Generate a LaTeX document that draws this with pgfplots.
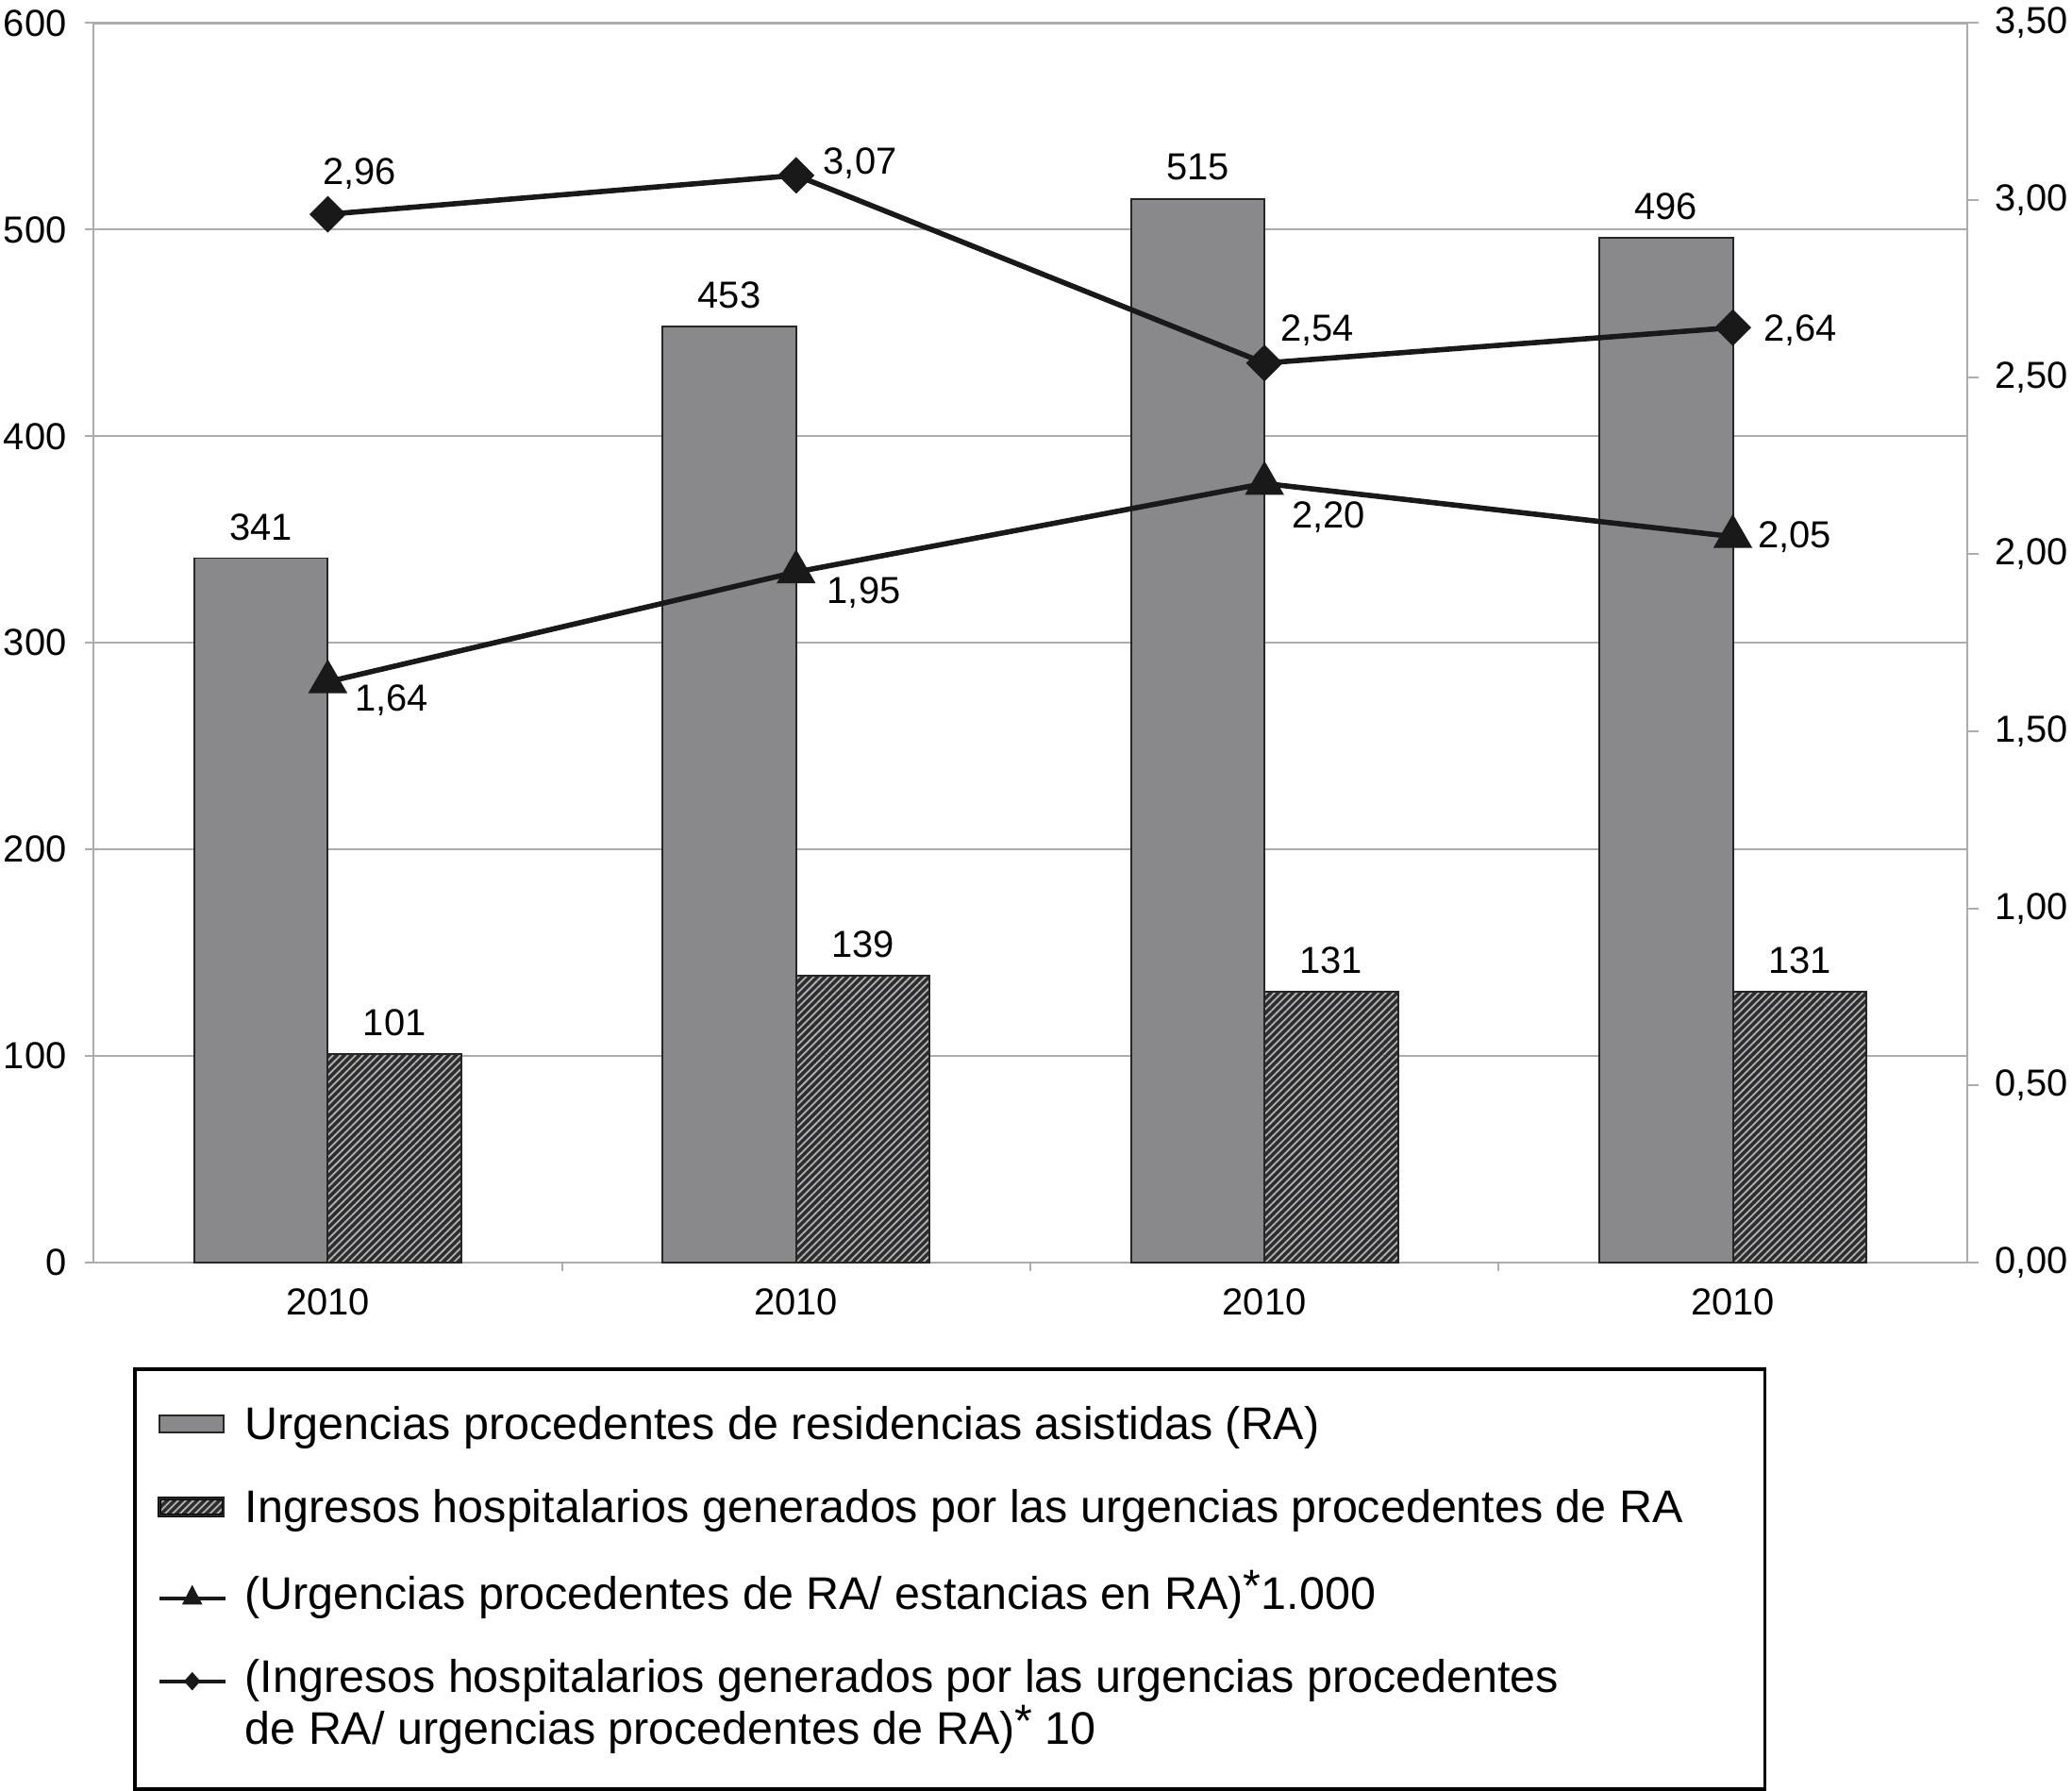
\documentclass[border=0pt]{standalone}
\usepackage{fontspec}
\setmainfont{Liberation Sans}
\usepackage{pgfplots}
\pgfplotsset{compat=1.18}
\usetikzlibrary{patterns.meta}
\pgfplotsset{/pgf/number format/assume math mode=true}
\definecolor{barA}{RGB}{137,137,140}
\definecolor{barB}{RGB}{45,45,48}
\definecolor{gridc}{RGB}{172,172,172}
\definecolor{linec}{RGB}{25,25,25}
\newcommand{\lblfont}{\fontsize{10}{12}\selectfont}
\begin{document}
\begin{tikzpicture}
\begin{axis}[
  scale only axis, width=498pt, height=329.5pt,
  xmin=-0.5, xmax=3.5, ymin=0, ymax=600,
  enlargelimits=false,
  xtick={0,1,2,3}, xticklabels={2010,2010,2010,2010},
  minor xtick={0.5,1.5,2.5},
  ytick={0,100,200,300,400,500,600},
  tick pos=left, tick align=outside,
  major tick length=2.3pt, minor tick length=2.2pt,
  major x tick style={draw=none},
  minor x tick style={draw=gridc, line width=0.5pt},
  ytick style={draw=gridc, line width=0.5pt},
  ymajorgrids, major grid style={draw=gridc, line width=0.5pt},
  axis line style={draw=gridc, line width=0.6pt},
  ticklabel style={font=\lblfont, inner xsep=1pt, inner ysep=2pt, text=black},
  yticklabel style={xshift=-3.7pt},
  xticklabel style={yshift=-2.4pt},
]
\addplot[ybar, bar width=0.285, bar shift=-0.1425, fill=barA, draw=black!85, line width=0.5pt,
  nodes near coords,
  every node near coord/.append style={anchor=center, xshift=-17.74pt, yshift=8.3pt, inner sep=0pt, font=\lblfont, text=black}]
  coordinates {(0,341) (1,453) (2,515) (3,496)};
\addplot[ybar, bar width=0.285, bar shift=0.1425, fill=barB, draw=black!85, line width=0.5pt,
  postaction={pattern={Lines[angle=45,distance=1.4pt,line width=0.45pt]}, pattern color=gray!60},
  nodes near coords,
  every node near coord/.append style={anchor=center, xshift=17.74pt, yshift=8.3pt, inner sep=0pt, font=\lblfont, text=black}]
  coordinates {(0,101) (1,139) (2,131) (3,131)};
\end{axis}
\begin{axis}[
  scale only axis, width=498pt, height=329.5pt,
  xmin=-0.5, xmax=3.5, ymin=0, ymax=3.5,
  enlargelimits=false,
  axis x line=none, axis y line*=right,
  ytick={0,0.5,1,1.5,2,2.5,3,3.5},
  yticklabel={\pgfmathprintnumber[fixed,fixed zerofill,precision=2,use comma]{\tick}},
  tick align=outside, major tick length=3pt,
  ytick style={draw=gridc, line width=0.5pt},
  axis line style={draw=gridc, line width=0.6pt, -},
  ticklabel style={font=\lblfont, inner xsep=1pt, inner ysep=2pt, text=black},
  yticklabel style={xshift=3.25pt},
  clip=false,
  legend style={at={(0.0211,-0.0845)}, anchor=north west, draw=black, line width=0.9pt,
    inner xsep=6pt, inner ysep=9.3pt, row sep=8.6pt, column sep=4.8pt,
    nodes={inner sep=0pt, text depth=},
    cells={anchor=base west, inner sep=0pt, text depth=},
    font=\fontsize{12.15}{13.5}\selectfont, fill=white},
]
\addlegendimage{legend image code/.code={\draw[fill=barA, draw=black!85, line width=0.5pt] (0pt,2pt) rectangle (17pt,6.5pt);}}
\addlegendentry{\parbox[t]{398pt}{\strut Urgencias procedentes de residencias asistidas (RA)}}
\addlegendimage{legend image code/.code={\fill[barB] (0pt,2pt) rectangle (17pt,6.5pt);
  \fill[pattern={Lines[angle=45,distance=1.4pt,line width=0.45pt]}, pattern color=gray!60] (0pt,2pt) rectangle (17pt,6.5pt);
  \draw[draw=black!85, line width=0.5pt] (0pt,2pt) rectangle (17pt,6.5pt);}}
\addlegendentry{\parbox[t]{398pt}{\strut Ingresos hospitalarios generados por las urgencias procedentes de RA}}
\addplot[linec, line width=1.4pt, mark=triangle*, mark size=5.6pt, mark options={fill=linec, draw=linec, line width=0.4pt},
  legend image code/.code={\draw[linec, line width=1pt] (0pt,3pt) -- (17.5pt,3pt);
     \fill[linec] (7.2pt,2pt) -- (10.3pt,2pt) -- (8.75pt,5pt) -- cycle;},
  nodes near coords={\pgfmathprintnumber[fixed,fixed zerofill,precision=2,use comma]{\pgfplotspointmeta}},
  visualization depends on={\thisrow{dx}\as\dx},
  visualization depends on={\thisrow{dy}\as\dy},
  every node near coord/.append style={anchor=center, xshift=\dx pt, yshift=\dy pt, inner sep=0pt, font=\lblfont, text=black}]
  table[x=x, y=y] {
  x y dx dy
  0 1.64 17 -5
  1 1.95 18 -5.6
  2 2.20 17 -9
  3 2.05 16.5 0
  };
\addlegendentry{\parbox[t]{398pt}{\strut (Urgencias procedentes de RA/ estancias en RA)\raisebox{2pt}{*}1.000}}
\addplot[linec, line width=1.4pt, mark=square*, mark size=3.25pt, mark options={rotate=45, fill=linec, draw=linec, line width=0.4pt},
  legend image code/.code={\draw[linec, line width=1pt] (0pt,3pt) -- (17.5pt,3pt);
     \fill[linec] (7.5pt,3pt) -- (8.75pt,4.4pt) -- (10pt,3pt) -- (8.75pt,1.6pt) -- cycle;},
  nodes near coords={\pgfmathprintnumber[fixed,fixed zerofill,precision=2,use comma]{\pgfplotspointmeta}},
  visualization depends on={\thisrow{dx}\as\dx},
  visualization depends on={\thisrow{dy}\as\dy},
  every node near coord/.append style={anchor=center, xshift=\dx pt, yshift=\dy pt, inner sep=0pt, font=\lblfont, text=black}]
  table[x=x, y=y] {
  x y dx dy
  0 2.96 8.4 10.9
  1 3.07 17 3.2
  2 2.54 14 8.8
  3 2.64 18 -0.7
  };
\addlegendentry{\parbox[t]{398pt}{\strut (Ingresos hospitalarios generados por las urgencias procedentes\\[-1.6pt]de RA/ urgencias procedentes de RA)\raisebox{2pt}{*} 10}}
\end{axis}
\end{tikzpicture}
\end{document}
